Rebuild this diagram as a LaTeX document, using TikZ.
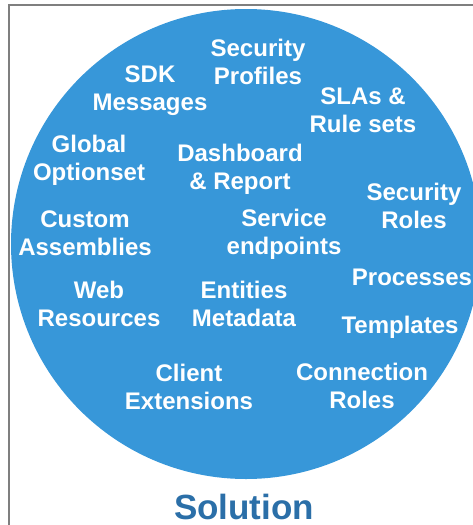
\documentclass[tikz,border=0pt]{standalone}
\usepackage{fontspec}
\setmainfont{Liberation Sans}
\usepackage{xcolor}
\definecolor{DiscBlue}{HTML}{3797D9}
\definecolor{TitleBlue}{HTML}{2B6FA8}
\definecolor{FrameGrey}{HTML}{7F7F7F}
\usepackage{tikz}
\usetikzlibrary{positioning}

\begin{document}
\begin{tikzpicture}[x=1pt,y=-1pt,
    part/.style={anchor=base,align=center,text=white,inner sep=0pt,
      font=\fontsize{24}{28}\selectfont\bfseries}]
  \useasboundingbox (0,0) rectangle (473,525);
  \clip (0,0) rectangle (473,525);
  % frame and disc
  \draw[FrameGrey,line width=1.5pt] (9,540) -- (9,5) -- (490,5);
  \fill[DiscBlue] (246,244) circle (235);
  % components of a solution (anchored on the last line)
  \node[part] (secprof)  at (258,84)  {Security\\Profiles};
  \node[part] (sdk)      at (150,110) {SDK\\Messages};
  \node[part] (slas)     at (363,132) {SLAs \&\\Rule sets};
  \node[part] (global)   at (89,180)  {Global\\Optionset};
  \node[part] (dash)     at (240,189) {Dashboard\\\& Report};
  \node[part] (secroles) at (414,228) {Security\\Roles};
  \node[part] (custom)   at (85,255)  {Custom\\Assemblies};
  \node[part] (service)  at (284,254) {Service\\endpoints};
  \node[part] (procs)    at (412,285) {Processes};
  \node[part] (web)      at (99,326)  {Web\\Resources};
  \node[part] (entities) at (244,326) {Entities\\Metadata};
  \node[part] (templ)    at (400,333) {Templates};
  \node[part] (client)   at (189,409) {Client\\Extensions};
  \node[part] (connroles) at (362,408) {Connection\\Roles};
  % caption
  \node[anchor=base,inner sep=0pt,text=TitleBlue,
    font=\fontsize{35}{40}\selectfont\bfseries] (solution) at (244,519) {Solution};
\end{tikzpicture}
\end{document}
